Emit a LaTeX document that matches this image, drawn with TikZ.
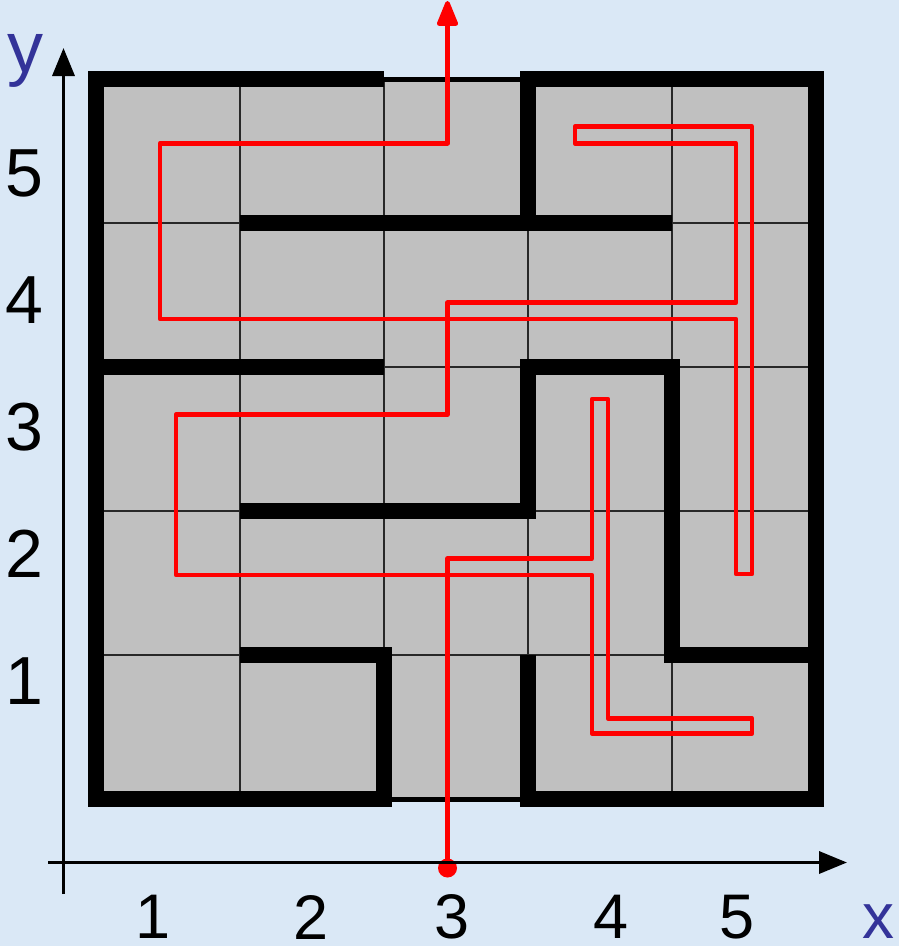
\documentclass[tikz,border=0pt]{standalone}
\usepackage{fontspec}
\setmainfont{Liberation Sans}
\usetikzlibrary{arrows.meta}
\definecolor{bgblue}{RGB}{218,232,246}
\definecolor{cellgray}{RGB}{192,192,192}
\definecolor{axisblue}{RGB}{51,51,153}
\definecolor{gridgray}{RGB}{40,40,40}
\definecolor{pathred}{RGB}{255,0,0}
\begin{document}
\begin{tikzpicture}[x=1pt,y=-1pt,
  wall/.style={draw=black,line width=16pt,line cap=butt,line join=miter},
  gridline/.style={draw=gridgray,line width=2pt},
  border/.style={draw=black,line width=5pt},
  redpath/.style={draw=pathred,line width=4.5pt,line join=round,line cap=round},
  axisline/.style={draw=black,line width=3.5pt},
  tick/.style={inner sep=0pt,font=\fontsize{68}{80}\selectfont,text=black},
  xtick/.style={inner sep=0pt,font=\fontsize{63}{75}\selectfont,text=black},
  axlabel/.style={inner sep=0pt,text=axisblue}
]
% background and bounding box
\fill[bgblue] (0,0) rectangle (899,946);
\useasboundingbox (0,0) rectangle (899,946);

% gray board
\fill[cellgray] (96,79) rectangle (816,799);
\foreach \gx in {240,384,528,672} \draw[gridline] (\gx,79) -- (\gx,799);
\foreach \gy in {223,367,511,655} \draw[gridline] (96,\gy) -- (816,\gy);
\draw[border] (96,79) rectangle (816,799);

% walls
\draw[wall] (240,655) -- (384,655) -- (384,799) -- (96,799) -- (96,79) -- (384,79);
\draw[wall] (528,655) -- (528,799) -- (816,799) -- (816,79) -- (528,79) -- (528,223);
\draw[wall] (240,223) -- (672,223);
\draw[wall] (96,367) -- (384,367);
\draw[wall] (240,511) -- (528,511) -- (528,367) -- (672,367) -- (672,655) -- (816,655);

% red route
\coordinate (start) at (447.5,862);
\coordinate (exit) at (447.5,1);
\fill[pathred] (447.5,868) circle (9.5pt);
\draw[redpath,-{Triangle[length=29pt,width=22pt,round]}] (start)
  -- (447.5,558.3) -- (592,558.3) -- (592,399) -- (608,399) -- (608,718.3)
  -- (752,718.3) -- (752,733.5) -- (592,733.5) -- (592,575) -- (176,575)
  -- (176,414.5) -- (447.5,414.5) -- (447.5,302.7) -- (736,302.7) -- (736,143.3)
  -- (575,143.3) -- (575,126.7) -- (752,126.7) -- (752,574) -- (736,574)
  -- (736,319) -- (160,319) -- (160,143.3) -- (447.5,143.3) -- (exit);

% axes
\coordinate (xfrom) at (48,862.5);
\coordinate (xto) at (847,862.5);
\coordinate (yfrom) at (63.5,894);
\coordinate (yto) at (63.5,48);
\draw[axisline,-{Triangle[length=28pt,width=22pt]}] (xfrom) -- (xto);
\draw[axisline,-{Triangle[length=28pt,width=22pt]}] (yfrom) -- (yto);

% tick labels
\node[tick] (y5) at (24,173) {5};
\node[tick] (y4) at (24,300) {4};
\node[tick] (y3) at (24,427) {3};
\node[tick] (y2) at (24,554) {2};
\node[tick] (y1) at (24,681) {1};
\node[xtick] (x1) at (153,917) {1};
\node[xtick] (x2) at (311,917) {2};
\node[xtick] (x3) at (452.5,917) {3};
\node[xtick] (x4) at (611,917) {4};
\node[xtick] (x5) at (737.5,917) {5};
\node[axlabel,font=\fontsize{72}{84}\selectfont] (ylab) at (25,60.5) {y};
\node[axlabel,font=\fontsize{64}{76}\selectfont] (xlab) at (878.5,922) {x};
\end{tikzpicture}
\end{document}
